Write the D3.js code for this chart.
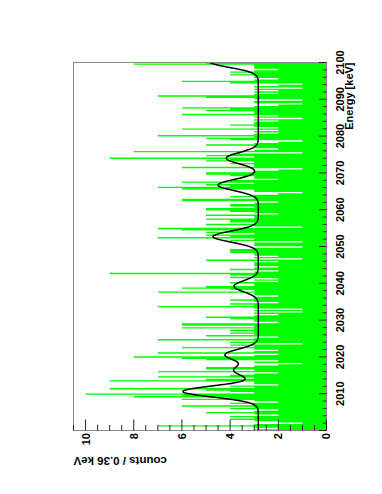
<!DOCTYPE html>
<html><head><meta charset="utf-8">
<script src="https://cdn.jsdelivr.net/npm/d3@7"></script>
<style>html,body{margin:0;padding:0;background:#fff;} svg{display:block;}</style>
</head><body>
<script>
// ---- data ----
const binStart = 2000;      // keV
const binWidth = 0.36;      // keV per bin
const counts = [
  3,2,3,7,3,1,2,3,4,3,
  4,2,3,5,3,2,4,3,6,3,
  4,2,3,6,4,8,6,10,3,4,
  5,9,3,4,2,3,3,9,5,3,
  7,4,3,2,7,3,5,5,3,2,
  1,3,2,5,6,8,
  3,2,7,3,2,3,6,3,4,1,
  4,3,7,3,2,5,3,4,3,4,
  3,6,3,6,6,2,3,3,4,5,
  3,2,3,1,3,1,3,7,3,4,
  2,3,4,3,3,2,3,3,7,3,
  4,6,5,3,3,4,2,3,
  2,4,3,4,9,3,2,4,3,2,
  3,3,3,2,5,1,3,2,3,3,
  4,4,4,3,1,3,3,3,1,4,
  3,7,4,5,3,5,4,6,7,1,
  3,5,3,4,4,5,3,3,5,2,
  3,4,5,5,3,4,4,
  3,2,6,6,3,4,3,2,1,3,
  3,6,7,4,5,3,6,4,2,3,
  3,4,5,5,3,2,1,6,3,3,
  4,3,5,4,9,3,5,4,1,8,
  3,2,3,3,5,3,2,1,4,5,
  3,7,3,2,3,2,6,
  2,3,4,3,3,2,3,1,3,2,
  6,3,3,5,4,6,3,2,1,3,
  3,1,3,5,7,3,2,3,2,3,
  1,3,2,1,4,6,3,2,3,3,
  4,3,4,3,2,3,3,3,8,5
];
const energyDomain = [2000, 2100];
const countDomain = [0, 10.5];
const energyTickLabels = [2010, 2020, 2030, 2040, 2050, 2060, 2070, 2080, 2090, 2100];
const countTickLabels = [0, 2, 4, 6, 8, 10];
// fit: flat background + gaussian peaks
const fitBackground = 2.83;
const fitPeakEnergies = [2010.6, 2016.3, 2020.6, 2039.2, 2052.7, 2066.7, 2074.0, 2100.2];
const fitPeakHeights  = [3.13, 1.0, 1.37, 1.01, 1.88, 1.67, 1.33, 2.02];
const fitPeakSigma = 1.5;
const xTitle = "Energy [keV]";
const yTitle = "counts / 0.36 keV";

// ---- layout (drawn in unrotated frame, then rotated -90deg) ----
const W = 382, H = 494;
const svg = d3.select("body").append("svg").attr("width", W).attr("height", H);
const g = svg.append("g").attr("transform", `translate(0,${H}) rotate(-90)`);

const fl = 63.5, fr = 431.5, ft = 73.5, fb = 326.5;
const x = d3.scaleLinear().domain(energyDomain).range([fl, fr]);
const y = d3.scaleLinear().domain(countDomain).range([fb, ft]);

g.append("defs").append("clipPath").attr("id", "clip")
  .append("rect").attr("x", fl).attr("y", ft).attr("width", fr - fl).attr("height", fb - ft);

const plot = g.append("g").attr("clip-path", "url(#clip)");

// histogram (filled step area)
const binData = counts.map((c, i) => ({ e: binStart + i * binWidth, c }));
binData.push({ e: binStart + counts.length * binWidth, c: counts[counts.length - 1] });
const area = d3.area().x(d => x(d.e)).y0(y(0)).y1(d => y(d.c)).curve(d3.curveStepAfter);
plot.append("path").datum(binData).attr("d", area).attr("fill", "#00ff00").attr("stroke", "none");

// fit curve
const fitFn = e => fitBackground + d3.sum(fitPeakEnergies, (m, k) =>
  fitPeakHeights[k] * Math.exp(-((e - m) ** 2) / (2 * fitPeakSigma ** 2)));
const fitPts = d3.range(energyDomain[0], energyDomain[1] + 0.05, 0.1).map(e => [e, fitFn(e)]);
plot.append("path").datum(fitPts)
  .attr("d", d3.line().x(d => x(d[0])).y(d => y(d[1])))
  .attr("fill", "none").attr("stroke", "#000").attr("stroke-width", 1.5);

// frame
g.append("rect").attr("x", fl).attr("y", ft).attr("width", fr - fl).attr("height", fb - ft)
  .attr("fill", "none").attr("stroke", "#888").attr("stroke-width", 1);

// energy axis ticks (inside, from bottom edge)
const eTicks = d3.range(energyDomain[0], energyDomain[1] + 0.001, 2);
g.append("g").selectAll("line").data(eTicks).join("line")
  .attr("x1", d => x(d)).attr("x2", d => x(d))
  .attr("y1", fb).attr("y2", d => fb - (d % 10 === 0 ? 7.6 : 3.8))
  .attr("stroke", "#222").attr("stroke-width", 1);

// count axis ticks (inside, from left edge)
const cTicks = d3.range(0, countDomain[1] + 0.001, 0.5);
g.append("g").selectAll("line").data(cTicks).join("line")
  .attr("y1", d => y(d)).attr("y2", d => y(d))
  .attr("x1", fl).attr("x2", d => fl + (d % 2 === 0 ? 11 : 5.5))
  .attr("stroke", "#222").attr("stroke-width", 1);

const font = "'Liberation Sans', Arial, Helvetica, sans-serif";

// energy labels
g.append("g").selectAll("text").data(energyTickLabels).join("text")
  .attr("x", d => x(d)).attr("y", 343.5)
  .attr("text-anchor", "middle")
  .attr("font-family", font).attr("font-weight", "bold").attr("font-size", 11)
  .attr("fill", "#000").text(d => d);

// count labels
g.append("g").selectAll("text").data(countTickLabels).join("text")
  .attr("x", fl - 2.5).attr("y", d => y(d)).attr("dy", "0.36em")
  .attr("text-anchor", "end")
  .attr("font-family", font).attr("font-weight", "bold").attr("font-size", 11)
  .attr("fill", "#000").text(d => d);

// axis titles
g.append("text").attr("x", fr).attr("y", 353)
  .attr("text-anchor", "end")
  .attr("font-family", font).attr("font-weight", "bold").attr("font-size", 11)
  .attr("fill", "#000").text(xTitle);

g.append("text").attr("transform", `translate(37,${ft}) rotate(-90)`)
  .attr("text-anchor", "end")
  .attr("font-family", font).attr("font-weight", "bold").attr("font-size", 11.5)
  .attr("fill", "#000").text(yTitle);
</script>
</body></html>
